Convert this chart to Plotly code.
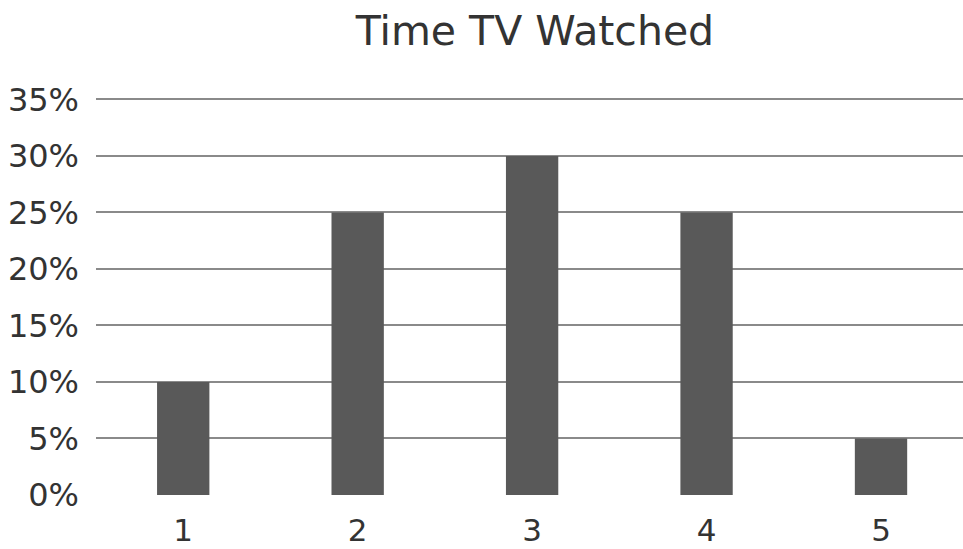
import plotly.graph_objects as go

categories = [1, 2, 3, 4, 5]
values = [10, 25, 30, 25, 5]
tick_vals = [0, 5, 10, 15, 20, 25, 30, 35]
tick_text = ["0%", "5%", "10%", "15%", "20%", "25%", "30%", "35%"]

fig = go.Figure(go.Bar(x=categories, y=values, width=0.3,
                       marker=dict(color="#595959", line=dict(width=0))))
font = "DejaVu Sans, sans-serif"
fig.update_layout(
    width=963, height=549,
    margin=dict(l=96, r=0, t=96, b=54, autoexpand=False),
    paper_bgcolor="white", plot_bgcolor="white",
    title=dict(text="Time TV Watched", x=0.5555, xanchor="center", y=0.9435, yanchor="middle",
               font=dict(family=font, size=41, color="#333333")),
    font=dict(family=font, color="#333333"),
    showlegend=False,
)
fig.update_xaxes(range=[0.5, 5.47], tickvals=categories, ticktext=[str(c) for c in categories],
                 tickfont=dict(size=31), showgrid=False, zeroline=False, showline=False, ticks="",
                 ticklabelstandoff=14, automargin=False)
fig.update_yaxes(range=[0, 35.3], tickvals=tick_vals, ticktext=tick_text, tickfont=dict(size=32),
                 showgrid=True, gridcolor="#8a8a8a", gridwidth=1.5, zeroline=False, showline=False,
                 ticks="", ticklabelstandoff=16, automargin=False)
fig.write_html("out.html", config={"displayModeBar": False},
               post_script="document.body.style.margin='0';document.body.style.overflow='hidden';")
